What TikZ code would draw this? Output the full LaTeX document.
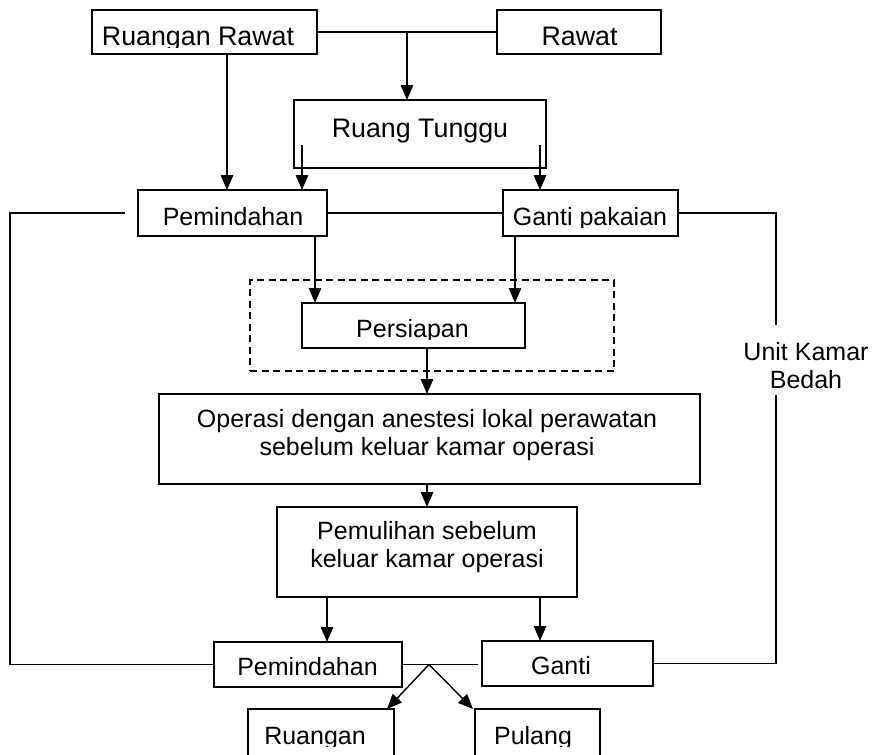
\documentclass[tikz,border=0pt]{standalone}
\usepackage{fontspec}
\setmainfont{Liberation Sans}
\usetikzlibrary{arrows.meta,calc}
% two centred lines whose first baseline is the node's base
\newcommand\twoline[2]{\begin{tabular}[t]{@{}c@{}}#1\\#2\end{tabular}}

\begin{document}
\begin{tikzpicture}[x=1pt,y=-1pt,
  box/.style={draw, line width=1.4pt, inner sep=0pt, outer sep=0pt},
  frame/.style={draw, line width=1.2pt, dash pattern=on 7pt off 4.5pt, inner sep=0pt, outer sep=0pt},
  lbl/.style={inner sep=0pt, anchor=base, font=\fontsize{25}{28.5}\selectfont},
  biglbl/.style={lbl, font=\fontsize{26.8}{30}\selectfont},
  link/.style={line width=1.4pt},
  arr/.style={link, -{Triangle[length=15pt,width=12.5pt]}}]
\useasboundingbox (0,0) rectangle (873,755);

% boxes
\node[box, minimum width=225pt, minimum height=44pt] (rr) at (204.5,32) {};
\node[box, minimum width=164pt, minimum height=44pt] (rw) at (579,32) {};
\node[box, minimum width=252pt, minimum height=68pt] (rt) at (420,134) {};
\node[box, minimum width=189pt, minimum height=46pt] (p1) at (232.5,213) {};
\node[box, minimum width=175pt, minimum height=46pt] (gp) at (590.5,213) {};
\node[frame, minimum width=364pt, minimum height=91pt] (prep) at (432,325.5) {};
\node[box, minimum width=223pt, minimum height=45pt] (ps) at (413.5,325.5) {};
\node[box, minimum width=541pt, minimum height=90pt] (op) at (429.5,439) {};
\node[box, minimum width=300pt, minimum height=90pt] (pm) at (427,552) {};
\node[box, minimum width=188pt, minimum height=45pt] (p2) at (308,664.5) {};
\node[box, minimum width=171pt, minimum height=45pt] (g2) at (567.5,663.5) {};
\node[box, minimum width=146pt, minimum height=62pt] (ru) at (321,740) {};
\node[box, minimum width=125pt, minimum height=62pt] (pu) at (537.5,740) {};

% labels
\begin{scope}
  \clip (92,10) rectangle (317,47);
  \node[biglbl] (rr-t) at (198,45) {Ruangan Rawat};
\end{scope}
\node[biglbl] (rw-t) at (579.5,45) {Rawat};
\node[biglbl] (rt-t) at (420,137) {Ruang Tunggu};
\node[lbl] (p1-t) at (233,225) {Pemindahan};
\begin{scope}
  \clip (503,190) rectangle (678,227);
  \node[lbl] (gp-t) at (590,225) {Ganti pakaian};
\end{scope}
\begin{scope}
  \clip (302,303) rectangle (525,339);
  \node[lbl] (ps-t) at (412.5,337) {Persiapan};
\end{scope}
\node[lbl] (op-t) at (427,427) {\twoline{Operasi dengan anestesi lokal perawatan}{sebelum keluar kamar operasi}};
\node[lbl] (pm-t) at (427,539) {\twoline{Pemulihan sebelum}{keluar kamar operasi}};
\node[lbl] (p2-t) at (307.5,675) {Pemindahan};
\node[lbl] (g2-t) at (561,674) {Ganti};
\begin{scope}
  \clip (248,709) rectangle (600,746);
  \node[lbl] (ru-t) at (315,744) {Ruangan};
  \node[lbl] (pu-t) at (533,744) {Pulang};
\end{scope}
\node[lbl] (uk) at (806,360) {\twoline{Unit Kamar}{Bedah}};

% connectors
\coordinate (j1) at (407,32);
\coordinate (rtL) at (302,145);
\coordinate (rtR) at (540,145);
\coordinate (lA) at (125,213);
\coordinate (ukA) at (776,325);
\coordinate (ukB) at (776,395);
\coordinate (j2) at (429,664.5);
\coordinate (j2e) at (478,664.5);

\draw[link] (rr.east) -- (rw.west);
\draw[arr] (j1) -- (j1 |- rt.north);
\draw[arr] (227,0 |- rr.south) -- (227,0 |- p1.north);
\draw[arr] (rtL) -- (rtL |- p1.north);
\draw[arr] (rtR) -- (rtR |- gp.north);
\draw[link] (p1.east) -- (gp.west);
\draw[link] (lA) -- (10,213) |- (p2.west);
\draw[link] (gp.east) -| (ukA);
\draw[link] (ukB) |- (g2.east);
\draw[arr] (315,0 |- p1.south) -- (315,0 |- ps.north);
\draw[arr] (515,0 |- gp.south) -- (515,0 |- ps.north);
\draw[arr] (427,0 |- ps.south) -- (427,0 |- op.north);
\draw[arr] (427,0 |- op.south) -- (427,0 |- pm.north);
\draw[arr] (327,0 |- pm.south) -- (327,0 |- p2.north);
\draw[arr] (540,0 |- pm.south) -- (540,0 |- g2.north);
\draw[link] (p2.east) -- (j2e);
\draw[arr] (j2) -- ($(ru.north east)+(-7,0)$);
\draw[arr] (j2) -- ($(pu.north west)+(-2,0)$);
\end{tikzpicture}
\end{document}
